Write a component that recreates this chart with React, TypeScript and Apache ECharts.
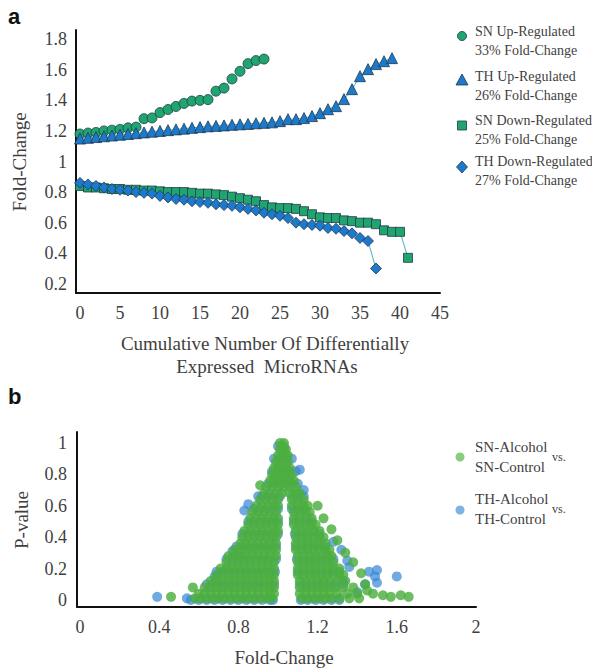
import React, { useEffect, useRef } from "react";
import * as echarts from "echarts";

// ---------- Panel a : fold-change curves ----------
const snUp = [1.18, 1.186, 1.19, 1.2, 1.205, 1.21, 1.22, 1.225, 1.28, 1.285, 1.32, 1.34, 1.36, 1.38, 1.395, 1.4, 1.405, 1.46, 1.48, 1.54, 1.59, 1.64, 1.66, 1.67];
const thUp = [1.15, 1.155, 1.16, 1.165, 1.17, 1.175, 1.18, 1.185, 1.19, 1.195, 1.2, 1.205, 1.21, 1.215, 1.22, 1.225, 1.23, 1.233, 1.236, 1.24, 1.243, 1.246, 1.25, 1.253, 1.256, 1.264, 1.277, 1.277, 1.284, 1.297, 1.316, 1.342, 1.362, 1.408, 1.473, 1.558, 1.604, 1.637, 1.656, 1.676];
const snDown = [0.84, 0.83, 0.83, 0.825, 0.82, 0.82, 0.815, 0.815, 0.81, 0.81, 0.805, 0.8, 0.8, 0.8, 0.795, 0.79, 0.79, 0.785, 0.78, 0.77, 0.76, 0.75, 0.74, 0.715, 0.7, 0.695, 0.695, 0.69, 0.675, 0.655, 0.635, 0.63, 0.63, 0.615, 0.61, 0.6, 0.6, 0.59, 0.55, 0.54, 0.54, 0.37];
const thDown = [0.86, 0.85, 0.84, 0.83, 0.82, 0.815, 0.81, 0.8, 0.795, 0.79, 0.775, 0.765, 0.755, 0.75, 0.74, 0.735, 0.73, 0.72, 0.715, 0.71, 0.7, 0.69, 0.68, 0.665, 0.655, 0.645, 0.63, 0.6, 0.59, 0.585, 0.58, 0.565, 0.56, 0.545, 0.53, 0.5, 0.48, 0.3];
const xTicksA = [0, 5, 10, 15, 20, 25, 30, 35, 40, 45];
const yTicksA = [0.2, 0.4, 0.6, 0.8, 1, 1.2, 1.4, 1.6, 1.8];
const legendA = [
  ["SN Up-Regulated", "33% Fold-Change"],
  ["TH Up-Regulated", "26% Fold-Change"],
  ["SN Down-Regulated", "25% Fold-Change"],
  ["TH Down-Regulated", "27% Fold-Change"],
];

// ---------- Panel b : P-value vs fold-change ----------
// rows: [p-value, fold-change values read along that row]
const snRows: [number, number[]][] = [
  [1.0, [1.01, 1.03]],
  [0.96, [1.01, 1.03, 1.04]],
  [0.92, [1.0, 1.02, 1.04, 1.05]],
  [0.88, [0.99, 1.01, 1.03, 1.05]],
  [0.84, [0.98, 1.0, 1.02, 1.04, 1.06]],
  [0.8, [0.97, 0.99, 1.01, 1.03, 1.05, 1.07]],
  [0.76, [0.96, 0.98, 1.0, 1.02, 1.04, 1.06, 1.08]],
  [0.72, [0.94, 0.97, 1.0, 1.03, 1.06, 1.09]],
  [0.68, [0.93, 0.96, 0.99, 1.02, 1.06, 1.09, 1.11]],
  [0.64, [0.91, 0.94, 0.97, 1.0, 1.07, 1.1, 1.13]],
  [0.6, [0.89, 0.92, 0.95, 0.98, 1.0, 1.07, 1.1, 1.13, 1.15]],
  [0.56, [0.87, 0.9, 0.93, 0.96, 0.99, 1.08, 1.11, 1.14, 1.16]],
  [0.52, [0.86, 0.89, 0.92, 0.95, 0.98, 1.0, 1.08, 1.11, 1.14, 1.17]],
  [0.48, [0.85, 0.88, 0.91, 0.94, 0.97, 1.0, 1.08, 1.11, 1.14, 1.17, 1.19]],
  [0.44, [0.83, 0.86, 0.89, 0.92, 0.95, 0.98, 1.0, 1.09, 1.12, 1.15, 1.18, 1.21]],
  [0.4, [0.82, 0.85, 0.88, 0.91, 0.94, 0.97, 0.99, 1.09, 1.12, 1.15, 1.18, 1.21, 1.23]],
  [0.36, [0.81, 0.84, 0.87, 0.9, 0.93, 0.96, 0.99, 1.09, 1.12, 1.15, 1.18, 1.21, 1.24]],
  [0.32, [0.78, 0.81, 0.84, 0.87, 0.9, 0.93, 0.96, 0.99, 1.09, 1.12, 1.15, 1.18, 1.21, 1.24, 1.26]],
  [0.28, [0.75, 0.78, 0.81, 0.84, 0.87, 0.9, 0.93, 0.96, 0.99, 1.1, 1.13, 1.16, 1.19, 1.22, 1.25, 1.27]],
  [0.24, [0.74, 0.77, 0.8, 0.83, 0.86, 0.89, 0.92, 0.95, 0.98, 1.1, 1.13, 1.16, 1.19, 1.22, 1.25, 1.28]],
  [0.2, [0.71, 0.74, 0.77, 0.8, 0.83, 0.86, 0.89, 0.92, 0.95, 0.98, 1.1, 1.13, 1.16, 1.19, 1.22, 1.25, 1.28, 1.31]],
  [0.16, [0.69, 0.72, 0.75, 0.78, 0.81, 0.84, 0.87, 0.9, 0.93, 0.96, 0.98, 1.1, 1.13, 1.16, 1.19, 1.22, 1.25, 1.28, 1.31, 1.33]],
  [0.12, [0.66, 0.69, 0.72, 0.75, 0.78, 0.81, 0.84, 0.87, 0.9, 0.93, 0.96, 0.98, 1.11, 1.14, 1.17, 1.2, 1.23, 1.26, 1.3, 1.34]],
  [0.08, [0.63, 0.66, 0.69, 0.72, 0.75, 0.78, 0.81, 0.84, 0.87, 0.9, 0.93, 0.96, 0.98, 1.11, 1.14, 1.17, 1.2, 1.23, 1.26, 1.29, 1.33, 1.38]],
  [0.04, [0.6, 0.63, 0.66, 0.69, 0.72, 0.75, 0.78, 0.81, 0.84, 0.87, 0.9, 0.93, 0.96, 0.98, 1.11, 1.14, 1.17, 1.2, 1.23, 1.26, 1.3, 1.35, 1.4]],
  [0.01, [0.58, 0.61, 0.64, 0.67, 0.7, 0.73, 0.76, 0.79, 0.82, 0.85, 0.88, 0.91, 0.94, 0.97, 1.12, 1.15, 1.18, 1.21, 1.24, 1.27, 1.31, 1.36, 1.41]],
];
const snExtra: [number, number][] = [
  [0.46, 0.02], [0.57, 0.08], [1.53, 0.03], [1.57, 0.02], [1.62, 0.03], [1.66, 0.02],
  [1.3, 0.38], [1.34, 0.3], [1.38, 0.24], [1.42, 0.17], [1.45, 0.06], [1.48, 0.04],
  [1.2, 0.6], [1.23, 0.52], [1.27, 0.45], [0.91, 0.73], [1.44, 0.1],
];
const thRows: [number, number[]][] = [
  [0.98, [1.0, 1.03]],
  [0.9, [0.98, 1.01, 1.04, 1.07]],
  [0.82, [0.97, 1.0, 1.03, 1.06, 1.09]],
  [0.74, [0.95, 0.98, 1.01, 1.04, 1.07, 1.1]],
  [0.66, [0.92, 0.95, 0.98, 1.01, 1.07, 1.1, 1.13]],
  [0.58, [0.88, 0.91, 0.94, 0.97, 1.0, 1.07, 1.1, 1.13]],
  [0.5, [0.85, 0.88, 0.91, 0.94, 0.97, 1.0, 1.08, 1.11, 1.14, 1.17]],
  [0.42, [0.82, 0.85, 0.88, 0.91, 0.94, 0.97, 1.0, 1.085, 1.12, 1.15, 1.18, 1.21]],
  [0.34, [0.79, 0.82, 0.85, 0.88, 0.91, 0.94, 0.97, 0.99, 1.09, 1.12, 1.15, 1.18, 1.21, 1.24]],
  [0.26, [0.74, 0.77, 0.8, 0.83, 0.86, 0.89, 0.92, 0.95, 0.99, 1.095, 1.13, 1.16, 1.19, 1.22, 1.25, 1.28]],
  [0.18, [0.69, 0.72, 0.75, 0.78, 0.81, 0.84, 0.87, 0.9, 0.93, 0.96, 0.985, 1.1, 1.13, 1.16, 1.19, 1.22, 1.25, 1.28, 1.31]],
  [0.1, [0.64, 0.67, 0.7, 0.73, 0.76, 0.79, 0.82, 0.85, 0.88, 0.91, 0.94, 0.98, 1.11, 1.14, 1.17, 1.2, 1.23, 1.26, 1.29, 1.33]],
  [0.0, [0.56, 0.6, 0.64, 0.68, 0.72, 0.76, 0.8, 0.84, 0.88, 0.92, 0.96, 0.975, 1.115, 1.15, 1.19, 1.23, 1.27, 1.31]],
];
const thExtra: [number, number][] = [
  [0.39, 0.02], [0.54, 0.01], [0.83, 0.57], [0.85, 0.61], [0.77, 0.31], [0.8, 0.28], [0.68, 0.15], [0.9, 0.66],
  [1.46, 0.18], [1.5, 0.19], [1.49, 0.15], [1.5, 0.11], [1.6, 0.15], [1.44, 0.1], [1.35, 0.25], [1.36, 0.21],
  [1.32, 0.32], [1.28, 0.37], [1.13, 0.7], [1.11, 0.83], [1.4, 0.05], [1.33, 0.12],
];
const xTicksB = [0, 0.4, 0.8, 1.2, 1.6, 2];
const yTicksB = [0, 0.2, 0.4, 0.6, 0.8, 1];

const serif = '"Liberation Serif", "Times New Roman", Times, serif';
const sans = '"Liberation Sans", Arial, sans-serif';
const txt = "#3f3f3f";
const green = "#20a56e";
const blue = "#1c79cc";
const edge = "#1e3a4c";
const lineCol = "#46aec8";
const scGreen = "#4cae3e";
const scBlue = "#3a88d6";

function rowsToPoints(rows: [number, number[]][], extra: [number, number][]) {
  const pts: [number, number][] = [];
  rows.forEach(([p, xs]) => xs.forEach((x) => pts.push([x, p])));
  extra.forEach((e) => pts.push([e[0], e[1]]));
  return pts;
}

const fmtNum = (v: number) => {
  const r = Math.round(v * 10) / 10;
  return Number.isInteger(r) ? String(r) : r.toFixed(1);
};

function axisCommon(extra: any) {
  return {
    type: "value",
    axisLine: { show: true, onZero: false, lineStyle: { color: "#111", width: 2 } },
    axisTick: { show: false },
    splitLine: { show: false },
    ...extra,
  };
}

export default function App() {
  const ref = useRef<HTMLDivElement>(null);
  useEffect(() => {
    if (!ref.current) return;
    const chart = echarts.init(ref.current, undefined, { renderer: "svg" });

    const lineSeries = (name: string, vals: number[], symbol: string, size: number, color: string) => ({
      name,
      type: "line",
      xAxisIndex: 0,
      yAxisIndex: 0,
      data: vals.map((v, i) => [i, v]),
      symbol,
      symbolSize: size,
      showAllSymbol: true,
      itemStyle: { color, borderColor: edge, borderWidth: 0.8 },
      lineStyle: { color: lineCol, width: 1 },
    });

    const legendGraphics: any[] = [];
    const legY = [[31, 50, 36], [76, 95, 80], [120, 139, 125], [161, 180, 167]];
    legendA.forEach((lines, i) => {
      legendGraphics.push({ type: "text", x: 475, y: legY[i][0], style: { text: lines[0], font: `14px ${serif}`, fill: txt, textAlign: "left", textVerticalAlign: "middle" } });
      legendGraphics.push({ type: "text", x: 475, y: legY[i][1], style: { text: lines[1], font: `14px ${serif}`, fill: txt, textAlign: "left", textVerticalAlign: "middle" } });
    });
    const sx = 462;
    legendGraphics.push({ type: "circle", shape: { cx: sx, cy: 36, r: 4.5 }, style: { fill: green, stroke: edge, lineWidth: 0.8 } });
    legendGraphics.push({ type: "polygon", shape: { points: [[sx, 74], [sx + 6, 85], [sx - 6, 85]] }, style: { fill: blue, stroke: edge, lineWidth: 0.8 } });
    legendGraphics.push({ type: "rect", shape: { x: sx - 4.5, y: 121, width: 9, height: 9 }, style: { fill: green, stroke: edge, lineWidth: 0.8 } });
    legendGraphics.push({ type: "polygon", shape: { points: [[sx, 161], [sx + 5.5, 167], [sx, 173], [sx - 5.5, 167]] }, style: { fill: blue, stroke: edge, lineWidth: 0.8 } });

    const option: any = {
      animation: false,
      backgroundColor: "#fff",
      grid: [
        { left: 76, top: 30, width: 364, height: 263 },
        { left: 77, top: 432, width: 399, height: 175 },
      ],
      xAxis: [
        axisCommon({
          gridIndex: 0, min: -0.5, max: 45,
          axisLabel: { customValues: xTicksA, fontFamily: serif, fontSize: 18, color: txt, margin: 11 },
        }),
        axisCommon({
          gridIndex: 1, min: -0.015, max: 2,
          axisLabel: { customValues: xTicksB, formatter: fmtNum, fontFamily: serif, fontSize: 18, color: txt, margin: 11 },
        }),
      ],
      yAxis: [
        axisCommon({
          gridIndex: 0, min: 0.14, max: 1.86,
          axisLabel: { customValues: yTicksA, formatter: fmtNum, fontFamily: serif, fontSize: 18, color: txt, margin: 9 },
        }),
        axisCommon({
          gridIndex: 1, min: -0.045, max: 1.07,
          axisLabel: { customValues: yTicksB, formatter: fmtNum, fontFamily: serif, fontSize: 18, color: txt, margin: 10 },
        }),
      ],
      series: [
        lineSeries("SN Up-Regulated", snUp, "circle", 10, green),
        lineSeries("SN Down-Regulated", snDown, "rect", 9, green),
        lineSeries("TH Up-Regulated", thUp, "triangle", 11, blue),
        lineSeries("TH Down-Regulated", thDown, "diamond", 11, blue),
        {
          name: "TH-Alcohol vs. TH-Control",
          type: "scatter",
          xAxisIndex: 1,
          yAxisIndex: 1,
          data: rowsToPoints(thRows, thExtra),
          symbolSize: 10,
          itemStyle: { color: scBlue, opacity: 0.72 },
        },
        {
          name: "SN-Alcohol vs. SN-Control",
          type: "scatter",
          xAxisIndex: 1,
          yAxisIndex: 1,
          data: rowsToPoints(snRows, snExtra),
          symbolSize: 10,
          itemStyle: { color: scGreen, opacity: 0.82 },
        },
      ],
      graphic: [
        { type: "text", x: 8, y: 16, style: { text: "a", font: `bold 22px ${sans}`, fill: "#111", textAlign: "left", textVerticalAlign: "middle" } },
        { type: "text", x: 8, y: 396, style: { text: "b", font: `bold 22px ${sans}`, fill: "#111", textAlign: "left", textVerticalAlign: "middle" } },
        { type: "text", x: 19, y: 162, rotation: Math.PI / 2, style: { text: "Fold-Change", font: `19px ${serif}`, fill: txt, textAlign: "center", textVerticalAlign: "middle" } },
        { type: "text", x: 265, y: 343, style: { text: "Cumulative Number Of Differentially", font: `19px ${serif}`, fill: txt, textAlign: "center", textVerticalAlign: "middle" } },
        { type: "text", x: 267, y: 366, style: { text: "Expressed  MicroRNAs", font: `19px ${serif}`, fill: txt, textAlign: "center", textVerticalAlign: "middle" } },
        ...legendGraphics,
        { type: "text", x: 21, y: 520, rotation: Math.PI / 2, style: { text: "P-value", font: `19px ${serif}`, fill: txt, textAlign: "center", textVerticalAlign: "middle" } },
        { type: "text", x: 284, y: 657, style: { text: "Fold-Change", font: `19px ${serif}`, fill: txt, textAlign: "center", textVerticalAlign: "middle" } },
        { type: "circle", shape: { cx: 460, cy: 457, r: 4.5 }, style: { fill: scGreen, opacity: 0.65 } },
        { type: "circle", shape: { cx: 460, cy: 510, r: 4.5 }, style: { fill: scBlue, opacity: 0.65 } },
        { type: "text", x: 475, y: 447, style: { text: "SN-Alcohol", font: `15px ${serif}`, fill: txt, textAlign: "left", textVerticalAlign: "middle" } },
        { type: "text", x: 475, y: 467, style: { text: "SN-Control", font: `15px ${serif}`, fill: txt, textAlign: "left", textVerticalAlign: "middle" } },
        { type: "text", x: 552, y: 457, style: { text: "vs.", font: `12px ${serif}`, fill: txt, textAlign: "left", textVerticalAlign: "middle" } },
        { type: "text", x: 475, y: 499, style: { text: "TH-Alcohol", font: `15px ${serif}`, fill: txt, textAlign: "left", textVerticalAlign: "middle" } },
        { type: "text", x: 475, y: 519, style: { text: "TH-Control", font: `15px ${serif}`, fill: txt, textAlign: "left", textVerticalAlign: "middle" } },
        { type: "text", x: 552, y: 509, style: { text: "vs.", font: `12px ${serif}`, fill: txt, textAlign: "left", textVerticalAlign: "middle" } },
      ],
    };
    chart.setOption(option);
    return () => chart.dispose();
  }, []);

  return <div ref={ref} style={{ position: "absolute", left: 0, top: 0, width: 592, height: 669 }} />;
}
